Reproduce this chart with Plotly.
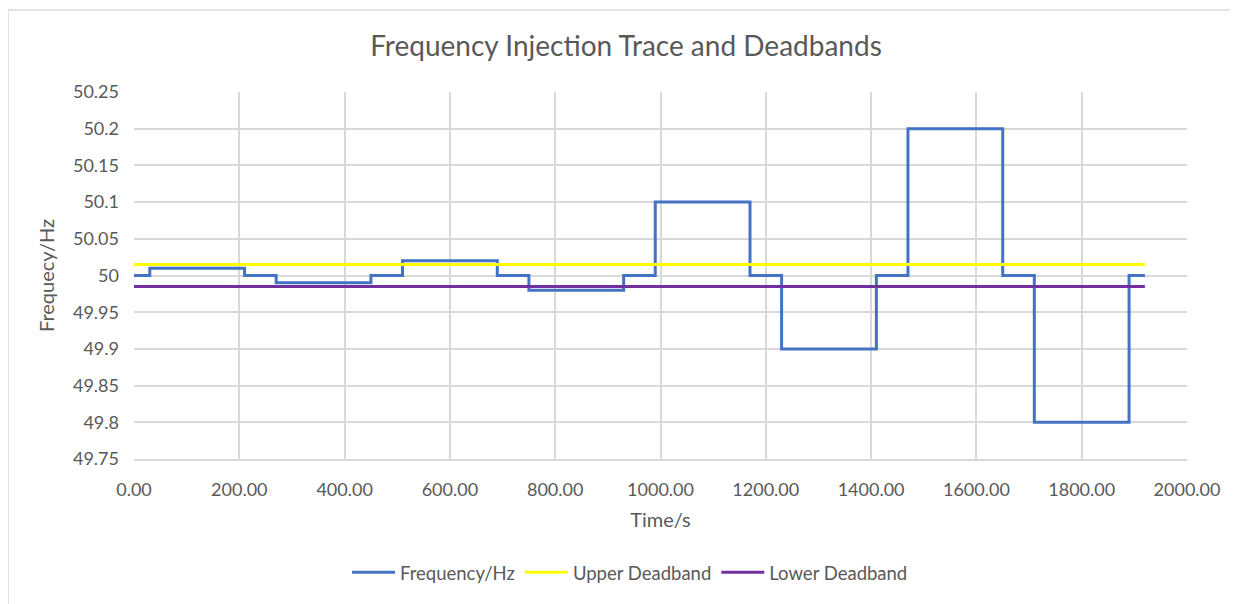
import plotly.graph_objects as go

# Data
time_s = [0, 30, 210, 270, 450, 510, 690, 750, 930, 990, 1170, 1230, 1410, 1470, 1650, 1710, 1890, 1920]
frequency_hz = [50, 50.01, 50, 49.99, 50, 50.02, 50, 49.98, 50, 50.1, 50, 49.9, 50, 50.2, 50, 49.8, 50, 50]
upper_deadband = [50.015] * len(time_s)
lower_deadband = [49.985] * len(time_s)

x_tickvals = [0, 200, 400, 600, 800, 1000, 1200, 1400, 1600, 1800, 2000]
x_ticktext = ["0.00", "200.00", "400.00", "600.00", "800.00", "1000.00", "1200.00",
              "1400.00", "1600.00", "1800.00", "2000.00"]
y_tickvals = [49.75, 49.8, 49.85, 49.9, 49.95, 50, 50.05, 50.1, 50.15, 50.2, 50.25]
y_ticktext = ["49.75", "49.8", "49.85", "49.9", "49.95", "50", "50.05", "50.1", "50.15", "50.2", "50.25"]

FONT = "Lato, 'Open Sans', sans-serif"
TXT = "#595959"
GRID = "#D9D9D9"

fig = go.Figure()
fig.add_trace(go.Scatter(x=time_s, y=frequency_hz, name="Frequency/Hz", mode="lines",
                         line=dict(color="#4472C4", width=3, shape="hv")))
fig.add_trace(go.Scatter(x=time_s, y=upper_deadband, name="Upper Deadband", mode="lines",
                         line=dict(color="#FFFF00", width=3)))
fig.add_trace(go.Scatter(x=time_s, y=lower_deadband, name="Lower Deadband", mode="lines",
                         line=dict(color="#7030A0", width=3)))

# page body has an 8px margin; figure coords = screen coords - 8
OFF = 8
W, H = 1238 - OFF, 604 - OFF
L, R, T, B = 134 - OFF, 1187 - OFF, 92 - OFF, 463 - OFF
pw, ph = R - L, B - T

def px_x(px):
    return (px - OFF - L) / pw

def px_y(py):
    return (B - (py - OFF)) / ph

fig.update_layout(
    width=W, height=H,
    margin=dict(l=L, r=W - R, t=T, b=H - B),
    paper_bgcolor="white", plot_bgcolor="white",
    font=dict(family=FONT, color=TXT, size=18),
    title=dict(text="Frequency Injection Trace and Deadbands", x=px_x(626), xref="paper",
               xanchor="center", y=1 - (46 - OFF) / H, yanchor="middle",
               font=dict(size=28, color=TXT, family=FONT)),
    xaxis=dict(range=[0, 2000], tickvals=x_tickvals, ticktext=x_ticktext,
               showgrid=True, gridcolor=GRID, gridwidth=1.5, zeroline=False,
               showline=True, linecolor=GRID, linewidth=1.5, mirror=False,
               ticks="", tickfont=dict(size=18, color=TXT), ticklabelstandoff=14,
               title=dict(text="Time/s", font=dict(size=20, color=TXT), standoff=14)),
    yaxis=dict(range=[49.75, 50.25], tickvals=y_tickvals, ticktext=y_ticktext,
               showgrid=True, gridcolor=GRID, gridwidth=1.5, zeroline=False,
               showline=False, ticks="", tickfont=dict(size=18, color=TXT), ticklabelstandoff=14,
               title=dict(text="Frequecy/Hz", font=dict(size=20, color=TXT), standoff=12)),
    legend=dict(orientation="h", x=px_x(630), xanchor="center", y=px_y(578), yanchor="middle",
                font=dict(size=18.5, color=TXT), itemwidth=43, traceorder="normal",
                bgcolor="rgba(0,0,0,0)"),
    showlegend=True,
)

# chart-area border (left and top edges visible)
fig.add_shape(type="line", xref="paper", yref="paper", x0=px_x(8), x1=px_x(1250),
              y0=px_y(9), y1=px_y(9), line=dict(color=GRID, width=1.5))
fig.add_shape(type="line", xref="paper", yref="paper", x0=px_x(8), x1=px_x(8),
              y0=px_y(9), y1=px_y(620), line=dict(color=GRID, width=1.5))

fig.write_html("out.html")
